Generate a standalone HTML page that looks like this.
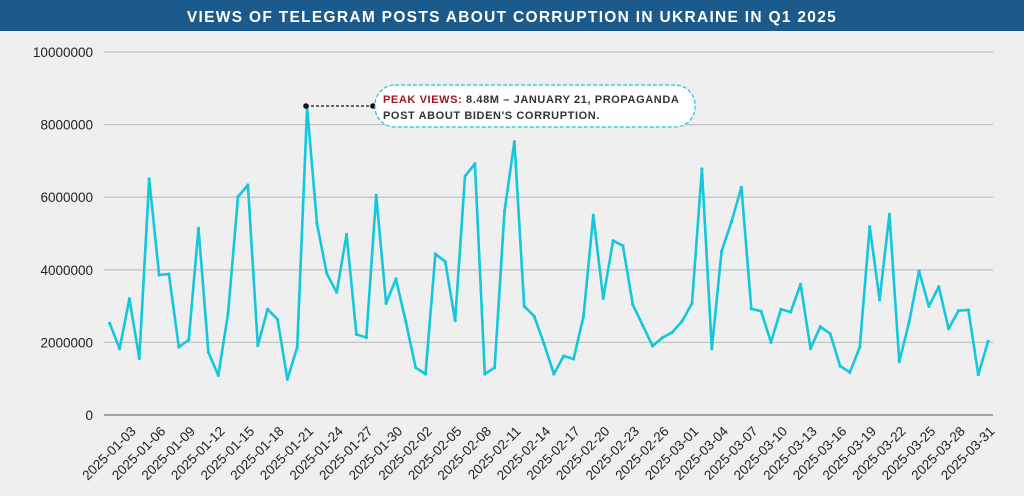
<!DOCTYPE html>
<html><head><meta charset="utf-8"><style>
html,body{margin:0;padding:0;background:#efefef;}
svg{display:block;font-family:"Liberation Sans",sans-serif;}
</style></head><body>
<svg width="1024" height="496" viewBox="0 0 1024 496" xmlns="http://www.w3.org/2000/svg">
<rect width="1024" height="496" fill="#efefef"/>
<rect width="1024" height="31" fill="#1b5a8a"/>
<text x="512" y="22" text-anchor="middle" fill="#fff" font-size="15.5" font-weight="bold" letter-spacing="1.3">VIEWS OF TELEGRAM POSTS ABOUT CORRUPTION IN UKRAINE IN Q1 2025</text>
<g id="grid" stroke="#c4c4c4" stroke-width="1.3"></g>
<g id="ylab" font-size="13.5" fill="#222" text-anchor="end"></g>
<line x1="104" y1="415" x2="993" y2="415" stroke="#888" stroke-width="1.5"/>
<g id="xlab" font-size="13.5" fill="#222" text-anchor="end"></g>
<polyline id="line" fill="none" stroke="#14c8dc" stroke-width="2.6" stroke-linejoin="round"/>
<g id="dots" fill="#14c8dc"></g>
<line x1="306" y1="106" x2="373" y2="106" stroke="#111" stroke-width="1.2" stroke-dasharray="3,2"/>
<circle cx="306" cy="106" r="2.8" fill="#111"/>
<circle cx="373" cy="106" r="2.8" fill="#111"/>
<rect x="375" y="85" width="320" height="42" rx="20" fill="#fff" stroke="#14c8dc" stroke-width="1.2" stroke-dasharray="4,2"/>
<text x="383" y="103" font-size="11" font-weight="bold" fill="#333" letter-spacing="0.6"><tspan fill="#a3161c">PEAK VIEWS:</tspan> 8.48M – JANUARY 21, PROPAGANDA</text>
<text x="383" y="119" font-size="11" font-weight="bold" fill="#333" letter-spacing="0.6">POST ABOUT BIDEN'S CORRUPTION.</text>
</svg>
<script>
var z=[670,746,596,775,237,525,522,741,720,385,757,826,640,290,255,737,628,658,838,742,23,371,521,577,403,703,713,286,610,537,
665,803,822,462,485,662,229,191,822,803,334,125,619,648,731,822,768,777,649,346,595,422,437,614,676,738,713,697,663,610,
207,746,454,365,262,626,634,727,628,636,553,746,680,701,798,817,741,380,599,343,785,665,513,619,560,686,632,630,824,724];
var ns="http://www.w3.org/2000/svg";
function el(t,a,p,txt){var e=document.createElementNS(ns,t);for(var k in a)e.setAttribute(k,a[k]);if(txt)e.textContent=txt;document.getElementById(p).appendChild(e);}
var pts=[];
for(var i=0;i<z.length;i++){var x=109.7+i*9.87,y=z[i]/3+100;pts.push(x.toFixed(1)+","+y.toFixed(1));el("circle",{cx:x,cy:y,r:1.6},"dots");}
document.getElementById("line").setAttribute("points",pts.join(" "));
for(var g=1;g<=5;g++){var y=415-g*72.6;el("line",{x1:104,y1:y,x2:993,y2:y},"grid");}
for(var g=0;g<=5;g++){var y=415-g*72.6;el("text",{x:93,y:y+5},"ylab",g==0?"0":String(g*2000000));}
var d0=new Date(Date.UTC(2025,0,3));
for(var i=0;i<=87;i+=3){var d=new Date(d0.getTime()+i*86400000);var s=d.toISOString().slice(0,10);var x=109.7+i*9.87+27;
el("text",{x:x,y:432,transform:"rotate(-45 "+x+" 432)"},"xlab",s);}
</script>
</body></html>
